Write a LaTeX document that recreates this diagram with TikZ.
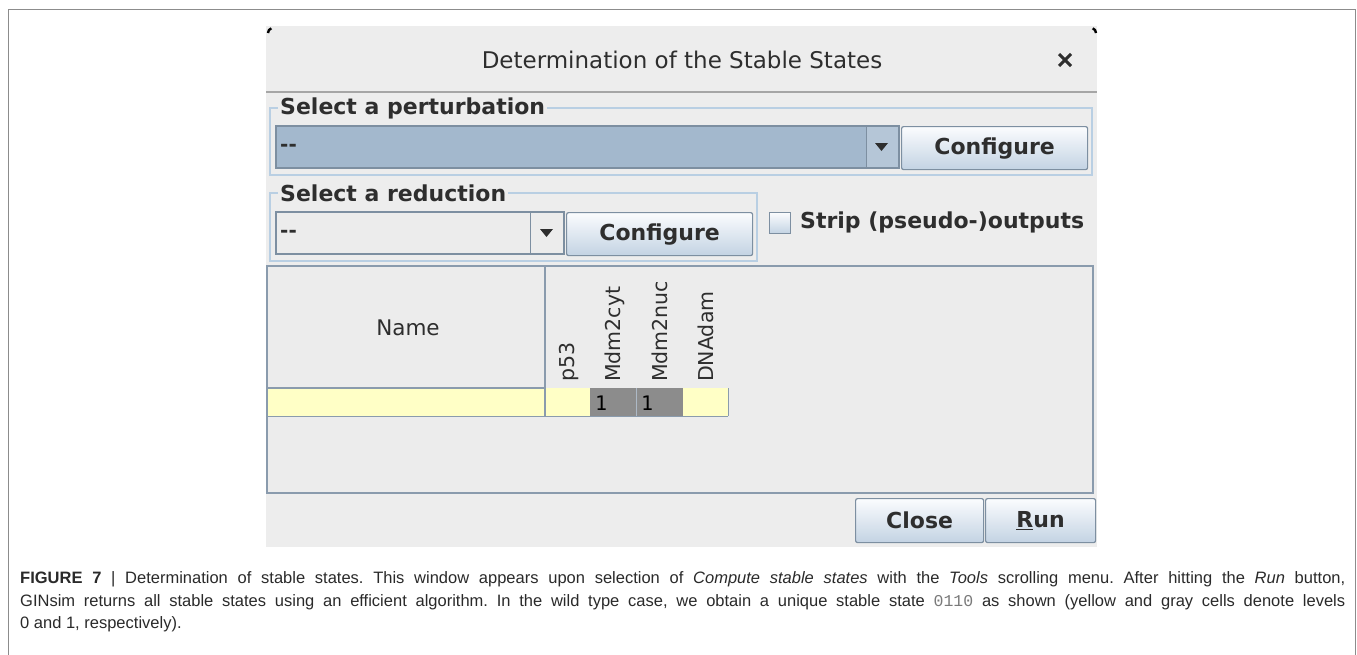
\documentclass[tikz,border=0pt]{standalone}
\usepackage{fontspec}
\usetikzlibrary{calc}
\setmainfont{DejaVu Sans}
\newfontfamily\capfont{Liberation Sans}
\newfontfamily\capmono{Liberation Mono}
\newfontfamily\cellmono{DejaVu Sans Mono}

\definecolor{winbg}{HTML}{EDEDED}
\definecolor{uitext}{HTML}{2E2E2E}
\definecolor{sepline}{HTML}{A6A6A6}
\definecolor{grpline}{HTML}{B9CFE3}
\definecolor{combofill}{HTML}{A3B8CD}
\definecolor{arrowfill}{HTML}{B5C6D7}
\definecolor{ctrlborder}{HTML}{7D8FA1}
\definecolor{btntop}{HTML}{FBFCFE}
\definecolor{btnbottom}{HTML}{C3D3E3}
\definecolor{tblborder}{HTML}{8A9BAD}
\definecolor{tblfill}{HTML}{ECECEC}
\definecolor{yellowcell}{HTML}{FFFFC6}
\definecolor{graycell}{HTML}{8C8C8C}
\definecolor{framegray}{HTML}{8C8C8C}
\definecolor{captext}{HTML}{2A2A2A}
\definecolor{monogray}{HTML}{7A7A7A}

\tikzset{
  uifont/.style={font=\fontsize{#1}{#1}\selectfont},
  uibold/.style={font=\bfseries\fontsize{#1}{#1}\selectfont},
  grpbox/.style={draw=grpline, line width=1.2pt},
  grplabel/.style={uibold=22, text=uitext, anchor=west, fill=winbg,
                   inner xsep=2pt, inner ysep=0pt},
  combobox/.style={draw=ctrlborder, line width=1.2pt},
  button/.style={draw=ctrlborder, line width=1.2pt, rounded corners=2pt,
                 top color=btntop, bottom color=btnbottom,
                 uibold=22, text=uitext, inner sep=0pt, anchor=north west},
  colhead/.style={uifont=20.5, text=uitext, rotate=90, anchor=base west, inner sep=0pt},
  cellval/.style={font=\cellmono\fontsize{20}{20}\selectfont, text=black, anchor=west, inner sep=0pt},
  capline/.style={font=\capfont\frenchspacing\fontsize{16.5}{22}\selectfont, text=captext,
                  anchor=base west, inner sep=0pt},
  downtri/.style={fill=uitext, draw=none},
}

\begin{document}
\begin{tikzpicture}[x=1pt,y=-1pt]
\useasboundingbox (0,0) rectangle (1357,654);
\fill[white] (0,0) rectangle (1357,654);

% figure frame (open at the bottom)
\draw[framegray, line width=1.8pt] (8.5,660) -- (8.5,9.5) -- (1355.5,9.5) -- (1355.5,660);

% dialog window
\fill[winbg] (266,26) rectangle (1097,547);
\draw[black, line width=2.4pt] (268,33) arc[start angle=180, end angle=250, radius=5];
\draw[black, line width=2.4pt] (1096,33) arc[start angle=0, end angle=-70, radius=5];

% title bar
\node[uifont=23, text=uitext] (title) at (682,60) {Determination of the Stable States};
\coordinate (closeic) at (1065,60);
\draw[uitext, line width=3pt] ($(closeic)+(-6,-6)$) -- ($(closeic)+(6,6)$);
\draw[uitext, line width=3pt] ($(closeic)+(-6,6)$) -- ($(closeic)+(6,-6)$);
\draw[sepline, line width=2pt] (266,92) -- (1097,92);

% perturbation group
\draw[grpbox] (270,108) rectangle (1092,175);
\node[grplabel] (lblpert) at (278,108) {Select a perturbation};
\fill[combofill] (276,126) rectangle (866,168);
\fill[arrowfill] (866,126) rectangle (899,168);
\draw[combobox] (276,126) rectangle (899,168);
\draw[ctrlborder, line width=1pt] (866,126) -- (866,168);
\node[uibold=20, text=uitext, anchor=west, inner sep=0pt] (pertval) at (280,148) {\mbox{-}\mbox{-}};
\fill[downtri] (875,143) -- (888,143) -- (881.5,151) -- cycle;
\node[button, minimum width=186pt, minimum height=43pt] (cfgpert) at (901,126) {Configure};

% reduction group
\draw[grpbox] (270,193) rectangle (757,261);
\node[grplabel] (lblred) at (278,193) {Select a reduction};
\fill[tblfill] (276,212) rectangle (564,254);
\draw[combobox] (276,212) rectangle (564,254);
\draw[ctrlborder, line width=1pt] (530,212) -- (530,254);
\node[uibold=20, text=uitext, anchor=west, inner sep=0pt] (redval) at (280,234) {\mbox{-}\mbox{-}};
\fill[downtri] (540,229) -- (553,229) -- (546.5,237) -- cycle;
\node[button, minimum width=186pt, minimum height=43pt] (cfgred) at (566,212) {Configure};

% strip outputs option
\node[draw=ctrlborder, line width=1.1pt, top color=btntop, bottom color=btnbottom,
      minimum width=21pt, minimum height=21pt, inner sep=0pt, anchor=north west] (chk) at (769,212) {};
\node[uibold=22, text=uitext, anchor=west, inner sep=0pt] (striplbl) at (800,222) {Strip (pseudo-)outputs};

% stable states table
\draw[tblborder, fill=tblfill, line width=1.2pt] (267,266) rectangle (1093,493);
\fill[yellowcell] (268,388) rectangle (590,416);
\fill[graycell] (590,388) rectangle (683,416);
\fill[yellowcell] (683,388) rectangle (728,416);
\draw[tblborder, line width=1.2pt] (545,266) -- (545,416);
\draw[tblborder, line width=1.2pt] (267,388) -- (545,388);
\draw[tblborder, line width=1pt] (267,416) -- (728,416);
\draw[tblborder, line width=1pt] (728,388) -- (728,416);
\draw[tblborder!70, line width=0.8pt] (636,388) -- (636,416);
\node[uifont=21.5, text=uitext] (namehd) at (408,328) {Name};
\node[colhead] (hp53) at (574,382) {p53};
\node[colhead] (hcyt) at (620.5,382) {Mdm2cyt};
\node[colhead] (hnuc) at (667,382) {Mdm2nuc};
\node[colhead] (hdna) at (713,382) {DNAdam};
\node[cellval] (v1) at (595,403) {1};
\node[cellval] (v2) at (641,403) {1};

% dialog buttons
\node[button, minimum width=128pt, minimum height=44pt] (closebtn) at (855,498) {Close};
\node[button, minimum width=110pt, minimum height=44pt] (runbtn) at (985,498) {\underline{R}un};

% caption
\node[capline] (cap1) at (20,583) {\makebox[1325pt][s]{\textbf{FIGURE 7} | Determination of stable states. This window appears upon selection of \textit{Compute stable states} with the \textit{Tools} scrolling menu. After hitting the \textit{Run} button,}};
\node[capline] (cap2) at (20,606) {\makebox[1325pt][s]{GINsim returns all stable states using an efficient algorithm. In the wild type case, we obtain a unique stable state {\capmono\color{monogray}0110} as shown (yellow and gray cells denote levels}};
\node[capline] (cap3) at (20,628) {0 and 1, respectively).};
\end{tikzpicture}
\end{document}
